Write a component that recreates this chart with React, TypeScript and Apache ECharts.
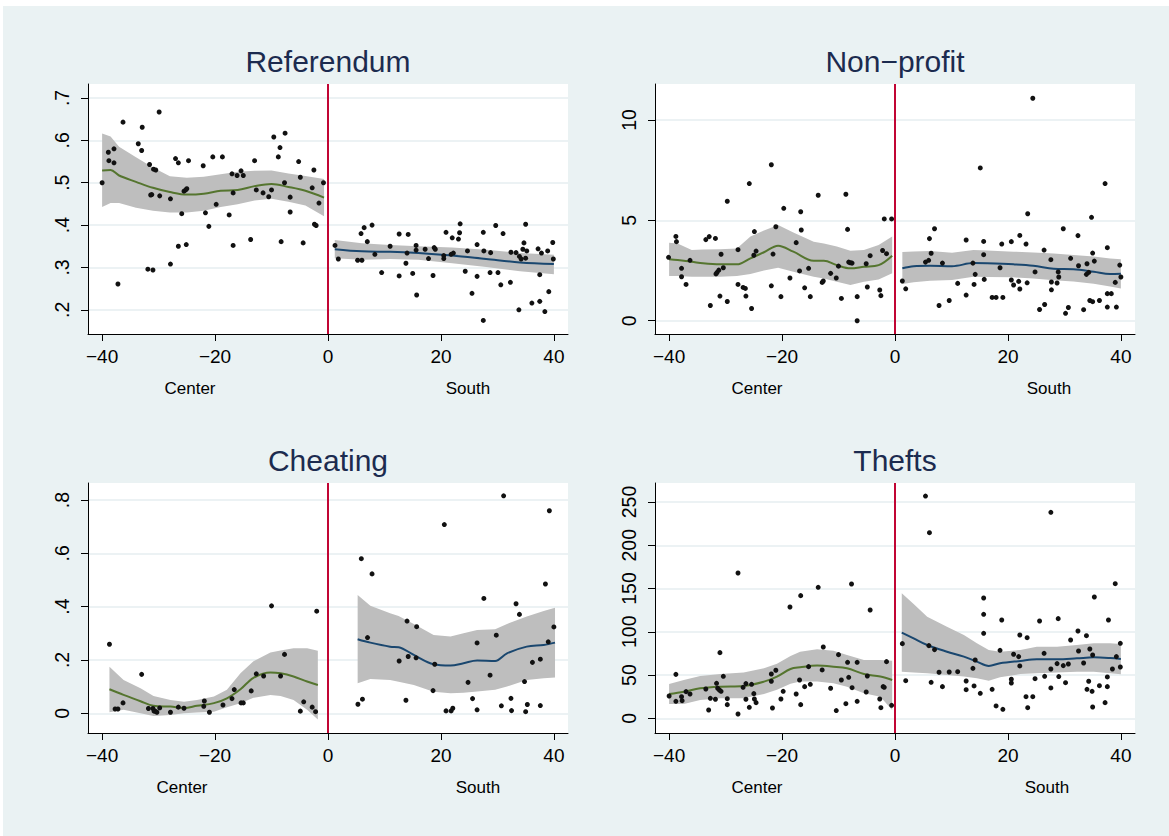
import React, { useEffect, useRef } from "react";
import * as echarts from "echarts";

const FONT = "'Liberation Sans', Arial, Helvetica, sans-serif";
const xTicks = [-40, -20, 0, 20, 40];
const refTicks = [0.2, 0.3, 0.4, 0.5, 0.6, 0.7];
const npTicks = [0, 5, 10];
const cheatTicks = [0, 0.2, 0.4, 0.6, 0.8];
const theftTicks = [0, 50, 100, 150, 200, 250];
const titles = ["Referendum", "Non−profit", "Cheating", "Thefts"];
const sideLabels = ["Center", "South"];

// ---------- Referendum ----------
const refCenterPts = [[-40,0.5],[-38.9,0.572],[-38.8,0.552],[-37.9,0.58],[-37.9,0.547],[-37.2,0.261],[-36.3,0.643],[-33.6,0.592],[-32.9,0.631],[-33,0.576],[-31.9,0.296],[-31,0.294],[-31.6,0.543],[-31.4,0.471],[-31.2,0.472],[-30.9,0.532],[-30.5,0.53],[-29.9,0.667],[-29.8,0.469],[-27.9,0.308],[-27.9,0.462],[-27,0.557],[-26.5,0.547],[-26.5,0.35],[-25.9,0.427],[-25.5,0.48],[-25.2,0.483],[-25,0.486],[-25.1,0.354],[-24.7,0.552],[-22.1,0.54],[-21.7,0.429],[-21.1,0.397],[-20.4,0.561],[-19.8,0.449],[-18.7,0.561],[-17.5,0.424],[-17,0.521],[-16.8,0.476],[-16.8,0.352],[-16.1,0.517],[-15.4,0.528],[-15,0.517],[-13.7,0.366],[-13,0.552],[-12.7,0.483],[-11.5,0.476],[-10.5,0.467],[-10,0.483],[-9.6,0.608],[-8.8,0.561],[-8.5,0.583],[-8.3,0.361],[-7.7,0.5],[-7.6,0.617],[-6.7,0.466],[-6.7,0.431],[-5.2,0.55],[-4.9,0.513],[-4.4,0.358],[-2.8,0.488],[-2.5,0.53],[-2.4,0.402],[-2.1,0.399],[-1.6,0.452],[-0.8,0.5]];
const refSouthPts = [[1.24,0.352],[1.83,0.32],[5.25,0.317],[6,0.317],[5.85,0.38],[6.4,0.394],[6.96,0.361],[7.8,0.4],[8.3,0.331],[9.5,0.288],[11,0.35],[12.6,0.379],[12.6,0.28],[13.8,0.31],[14,0.334],[14.2,0.378],[15,0.286],[15.6,0.352],[15.6,0.341],[15.7,0.235],[17.2,0.343],[17.8,0.321],[18.6,0.281],[18.8,0.347],[19,0.343],[20.5,0.328],[20.5,0.321],[20.9,0.383],[21.8,0.331],[22,0.37],[22.2,0.334],[23.1,0.367],[23.3,0.382],[23.4,0.403],[24.3,0.291],[24.7,0.339],[25.5,0.239],[26.4,0.354],[26.4,0.279],[27.5,0.175],[27.5,0.383],[27.6,0.339],[28.7,0.288],[28.8,0.335],[29.7,0.399],[30.1,0.288],[30.6,0.259],[31,0.38],[32.3,0.265],[32.4,0.336],[33.3,0.335],[33.8,0.2],[33.9,0.326],[34.2,0.32],[34.5,0.343],[34.7,0.358],[35,0.402],[35,0.322],[35.2,0.339],[36.1,0.216],[37.2,0.344],[37.5,0.283],[37.5,0.22],[37.8,0.334],[38.4,0.196],[38.9,0.339],[39.1,0.243],[39.8,0.359],[39.9,0.32]];
// [x, fit, lower, upper]
const refCenterFit = [[-40,0.529,0.443,0.616],[-38.5,0.53,0.452,0.609],[-37,0.517,0.452,0.585],[-34,0.502,0.441,0.56],[-31,0.488,0.434,0.536],[-28,0.478,0.43,0.515],[-25,0.472,0.43,0.512],[-22,0.474,0.434,0.514],[-19,0.481,0.443,0.52],[-16,0.483,0.449,0.526],[-13,0.492,0.458,0.528],[-10,0.497,0.462,0.529],[-7,0.49,0.455,0.522],[-4,0.481,0.446,0.516],[-0.7,0.465,0.421,0.509]];
const refSouthFit = [[1.2,0.343,0.322,0.365],[6,0.338,0.318,0.357],[11,0.337,0.32,0.353],[16,0.334,0.318,0.35],[22,0.328,0.31,0.347],[28,0.32,0.301,0.342],[34,0.312,0.291,0.334],[40,0.308,0.284,0.33]];

// ---------- Non-profit ----------
const npCenterPts = [[-40.1,3.16],[-38.8,4.2],[-38.7,3.94],[-37.8,2.61],[-37.8,2.19],[-37,1.81],[-36.3,3.01],[-33.5,4.04],[-32.9,4.19],[-32.7,0.76],[-31.8,4.1],[-31.7,2.33],[-31.5,2.41],[-31.2,2.52],[-30.8,3.31],[-31,1.23],[-30.4,2.64],[-29.7,5.95],[-29.7,0.96],[-27.8,3.54],[-27.8,1.81],[-26.9,1.66],[-26.5,1.61],[-26.4,1.23],[-25.8,6.83],[-25.4,0.61],[-24.9,4.44],[-25,3.26],[-24.6,3.47],[-21.9,7.77],[-21.9,1.74],[-21.6,3.32],[-21.1,4.68],[-20.2,1.2],[-19.7,5.6],[-18.6,2.13],[-17.5,3.89],[-16.9,2.48],[-16.7,5.43],[-16.6,4.52],[-16,1.64],[-15.3,2.61],[-15,1.2],[-13.6,6.25],[-12.9,1.91],[-12.7,1.98],[-11.4,2.36],[-10.4,2.13],[-10,2.72],[-9.5,1.11],[-8.7,6.3],[-8.4,4.55],[-8.2,2.92],[-7.9,2.89],[-7.6,2.87],[-6.7,1.2],[-6.7,0],[-5.1,2.84],[-4.9,1.68],[-4.4,3.24],[-2.7,1.53],[-2.5,1.25],[-2.2,3.5],[-1.9,5.07],[-1.5,3.34],[-0.6,5.07]];
const npSouthPts = [[1.3,1.98],[1.9,1.59],[5.4,2.92],[5.96,3.01],[6.1,4.09],[6.4,3.36],[7,4.58],[7.8,0.76],[8.4,2.87],[9.6,1.01],[11.1,1.86],[12.6,4.02],[12.6,1.28],[13.8,2.87],[14,1.81],[14.2,2.31],[15.1,7.61],[15.7,3.95],[15.7,3.29],[15.8,2.06],[17.2,1.16],[17.9,1.16],[18.6,2.64],[18.9,3.82],[19.1,1.16],[20.6,3.94],[20.6,2.03],[21,1.78],[21.9,1.96],[22.1,1.58],[22.1,4.25],[23.2,3.82],[23.4,1.89],[23.5,5.33],[24.4,11.08],[24.8,2.43],[25.6,0.56],[26.4,3.52],[26.5,0.81],[27.6,3.04],[27.7,1.93],[27.7,1.54],[28.7,1.88],[28.9,2.43],[29,2.18],[29.8,4.58],[30.2,0.37],[30.7,0.66],[31.1,3.11],[32.4,4.24],[32.5,2.74],[33.4,0.55],[33.9,2.31],[34,2.84],[34.3,2.41],[34.5,1.01],[34.8,5.15],[35,3.37],[35,0.95],[35.3,2.97],[36.2,1.01],[37.2,6.83],[37.6,3.64],[37.6,1.35],[38.3,1.35],[37.6,0.68],[39,1.91],[39.2,0.68],[39.8,2.77],[40,2.18]];
const npCenterFit = [[-40,3.06,2.23,3.89],[-38.5,3.02,2.23,3.85],[-36,2.94,2.19,3.52],[-34,2.86,2.19,3.55],[-31,2.81,2.19,3.56],[-28,2.81,2.23,3.6],[-25.6,3.11,2.33,4.19],[-23.2,3.41,2.5,4.5],[-20.7,3.74,2.64,4.77],[-18,3.44,2.44,4.39],[-14.4,2.99,2.19,3.94],[-12.6,2.99,2.1,3.85],[-10.3,2.77,1.94,3.7],[-7.9,2.61,1.78,3.49],[-5.5,2.69,1.94,3.52],[-2.9,2.77,2.06,3.77],[-0.5,3.24,2.36,4.19]];
const npSouthFit = [[1.3,2.61,1.83,3.42],[3.3,2.72,1.92,3.45],[6.2,2.74,1.99,3.47],[10.1,2.72,2.03,3.39],[13.9,2.87,2.19,3.52],[16.3,2.86,2.18,3.5],[21,2.81,2.16,3.44],[24.5,2.74,2.1,3.4],[28.1,2.59,2.02,3.35],[31.6,2.56,1.95,3.28],[35.2,2.44,1.84,3.2],[38.1,2.33,1.7,3.1],[40,2.34,1.61,3.06]];

// ---------- Cheating ----------
const cheatCenterPts = [[-38.7,0.259],[-37.7,0.016],[-37.2,0.016],[-36.3,0.039],[-33,0.146],[-31.8,0.018],[-31,0.018],[-30.8,0.008],[-30.6,0.008],[-30.3,0.004],[-29.8,0.02],[-27.9,0.004],[-26.5,0.023],[-25.5,0.019],[-21.9,0.046],[-22,0.026],[-21,0.004],[-18.6,0.031],[-17,0.055],[-16.6,0.089],[-15.4,0.039],[-15,0.039],[-13.6,0.084],[-12.7,0.148],[-11.4,0.14],[-10,0.403],[-8.4,0.14],[-7.7,0.221],[-4.9,0.008],[-4.3,0.043],[-2.8,0.023],[-2.2,0.006],[-2,0.383]];
const cheatSouthPts = [[5.3,0.034],[6.1,0.053],[5.9,0.58],[7,0.284],[7.8,0.523],[12.6,0.196],[13.8,0.049],[14,0.346],[14.2,0.213],[15.7,0.325],[15.6,0.208],[18.6,0.085],[18.9,0.184],[20.6,0.708],[20.9,0.009],[21.8,0.009],[22.1,0.019],[24.8,0.116],[25.6,0.055],[26.4,0.264],[26.4,0.013],[27.6,0.431],[28.7,0.143],[29.8,0.293],[30.7,0.028],[31.1,0.816],[32.4,0.056],[32.5,0.01],[33.3,0.411],[33.9,0.371],[34.8,0.119],[35,0.006],[35.3,0.033],[36.2,0.191],[37.6,0.203],[37.6,0.029],[38.5,0.485],[39,0.268],[39.2,0.76],[40,0.324]];
const cheatCenterFit = [[-38.7,0.09,0.004,0.175],[-36.2,0.069,0.013,0.125],[-33.2,0.045,0,0.094],[-30.9,0.028,-0.01,0.065],[-27.9,0.025,-0.006,0.05],[-25.5,0.02,0,0.043],[-23.2,0.028,0.003,0.05],[-20.2,0.038,0.006,0.063],[-17.9,0.056,0.023,0.088],[-15.5,0.09,0.038,0.15],[-13.2,0.133,0.058,0.195],[-10.2,0.153,0.069,0.228],[-8.4,0.15,0.065,0.236],[-6.1,0.138,0.05,0.244],[-3.7,0.119,0.013,0.244],[-1.8,0.106,-0.023,0.235]];
const cheatSouthFit = [[5.25,0.278,0.113,0.444],[7.5,0.265,0.129,0.403],[11,0.25,0.125,0.375],[12.5,0.248,0.118,0.365],[15.2,0.219,0.106,0.335],[18.7,0.184,0.081,0.294],[21.7,0.179,0.075,0.288],[24,0.188,0.077,0.3],[26.4,0.198,0.082,0.312],[29.6,0.196,0.088,0.315],[31.7,0.225,0.1,0.335],[35.2,0.25,0.125,0.363],[38.2,0.256,0.131,0.384],[40.2,0.265,0.134,0.396]];

// ---------- Thefts ----------
const theftCenterPts = [[-40,25.8],[-38.8,19.6],[-38.8,50.8],[-37.8,25],[-37.7,20.4],[-37,30.8],[-36.3,28.1],[-33.5,33.9],[-33,9.6],[-32.7,23.1],[-31.8,22],[-31.6,40.4],[-31.4,34.7],[-31.1,32.7],[-31,75.9],[-30.8,31.2],[-30.4,48.5],[-29.7,22.7],[-29.7,15.8],[-27.8,168],[-27.8,5],[-26.9,35.8],[-26.4,40.1],[-26.4,22],[-25.8,12.7],[-25.4,39.3],[-25,28.5],[-24.9,22.3],[-24.6,18.1],[-21.9,51.2],[-21.9,42.8],[-21.7,11.9],[-21.1,55.5],[-20.2,22.3],[-19.8,31.2],[-18.6,128.7],[-17.5,28.1],[-16.9,44.3],[-16.7,141.8],[-16.7,15.8],[-16,36.6],[-15.3,59.7],[-15,39.3],[-13.6,151.4],[-12.9,55.9],[-12.7,82.4],[-11.4,34.7],[-10.4,8.9],[-10,73.6],[-9.5,44.3],[-8.7,16.9],[-8.4,64.7],[-8.2,47.4],[-7.7,155.2],[-7.6,35.4],[-6.7,64.7],[-6.7,19.6],[-5.1,30.4],[-4.9,48.9],[-4.4,125.2],[-2.7,22.3],[-2.5,12.3],[-2.1,36.6],[-1.9,35.8],[-1.5,65.5],[-0.6,15]];
const theftSouthPts = [[1.3,86.3],[1.9,43.5],[5.4,256.9],[6,84],[6.1,214.6],[6.4,41.6],[7,79.4],[7.8,53.2],[8.4,36.6],[9.6,53.5],[11.1,53.9],[12.6,43.1],[12.6,33.1],[13.8,57.8],[14,37.4],[14.2,67.4],[15.1,28.9],[15.7,139.1],[15.7,120.2],[15.7,98.2],[17.2,33.5],[17.9,14.3],[18.6,78.6],[18.9,113.6],[19.1,10.4],[20.6,45.1],[20.6,40.8],[21,74],[21.9,71.3],[22.1,96.3],[22.1,60.5],[23.2,25],[23.4,93.2],[23.5,12.3],[24.4,25],[24.8,45.8],[25.6,112.5],[26.4,75.1],[26.5,48.5],[27.6,57],[27.6,238.1],[27.6,35.1],[28.7,63.2],[28.9,115.2],[29,48.2],[29.8,60.9],[30.2,41.2],[30.7,62.8],[31.1,90.5],[32.4,100.9],[32.5,77.8],[33.4,63.9],[33.9,95.5],[34,33.5],[34.3,42.8],[34.5,80.1],[34.9,31.2],[35,73.2],[35.3,140.2],[35,13.1],[36.2,37.7],[37.2,18.1],[37.6,47.8],[37.8,113.6],[37.6,36.6],[38.5,57],[39,155.6],[39.2,71.3],[39.9,86.7],[39.9,59.3]];
const theftCenterFit = [[-40,28.1,16.6,39.7],[-37.4,30.8,16.6,44.3],[-34.5,34.7,21.2,48.9],[-30.9,36.6,23.1,51.2],[-26.8,37.4,23.1,52.8],[-23.2,42.4,28.1,57.8],[-20.9,48.2,33,63],[-18.5,57,40,72],[-16.8,58.9,42.4,77],[-13.8,60.9,42.4,79.7],[-10.9,59.7,40.4,78.2],[-8.5,57.8,36.6,73.2],[-5.5,51.2,28.9,67.4],[-2.6,48.2,25,67.4],[-0.5,44.3,9.6,66.6]];
const theftSouthFit = [[1.2,99,53.9,144.5],[3.3,92.4,52.8,132.1],[5.7,84.7,52,117.5],[9.2,77,50.1,105.9],[12.2,71.3,48.2,96.3],[14.5,65.5,46.2,86.7],[16.6,60.5,43.5,79],[18.6,63.6,47.4,77],[22.2,66.3,51.2,79],[25.1,68.2,52,82.8],[28.7,68.2,52.8,82.8],[32.2,69.3,53.9,84.7],[35.2,70.5,53.9,86.7],[38.1,69.7,52,86.7],[40,68.6,50.8,85.9]];

const panels = [
  { title: titles[0], ticks: refTicks, min: 0.143, max: 0.733, c: refCenterPts, s: refSouthPts, cf: refCenterFit, sf: refSouthFit },
  { title: titles[1], ticks: npTicks, min: -0.66, max: 11.79, c: npCenterPts, s: npSouthPts, cf: npCenterFit, sf: npSouthFit },
  { title: titles[2], ticks: cheatTicks, min: -0.074, max: 0.864, c: cheatCenterPts, s: cheatSouthPts, cf: cheatCenterFit, sf: cheatSouthFit },
  { title: titles[3], ticks: theftTicks, min: -17, max: 272, c: theftCenterPts, s: theftSouthPts, cf: theftCenterFit, sf: theftSouthFit },
];

// layout (pixels)
const GRIDS = [
  { left: 88, top: 84, sideX: [190, 468] },
  { left: 655, top: 84, sideX: [757, 1049] },
  { left: 88, top: 483, sideX: [182, 478] },
  { left: 655, top: 483, sideX: [757, 1047] },
];
const GW = 480;
const GH = 250;

const GREEN = "#55752F";
const NAVY = "#1A476F";
const BAND = "#BEBEBE";
const RED = "#C10534";
const BG = "#EAF2F3";

function fmtY(v: number) {
  if (v === 0) return "0";
  const s = String(v);
  return s.startsWith("0.") ? s.slice(1) : s;
}
function fmtX(v: number) {
  return v < 0 ? "\u2212" + Math.abs(v) : String(v);
}

function bandSeries(fit: number[][], i: number) {
  return {
    type: "custom",
    xAxisIndex: i,
    yAxisIndex: i,
    silent: true,
    z: 1,
    data: fit,
    encode: { x: 0, y: 1 },
    renderItem: (params: any, api: any) => {
      if (params.dataIndex !== 0) return null;
      const up = fit.map((r) => api.coord([r[0], r[3]]));
      const lo = fit.slice().reverse().map((r) => api.coord([r[0], r[2]]));
      return {
        type: "polygon",
        shape: { points: up.concat(lo) },
        style: { fill: BAND, stroke: null },
      };
    },
  };
}

function lineSeries(fit: number[][], i: number, color: string) {
  return {
    type: "line",
    xAxisIndex: i,
    yAxisIndex: i,
    silent: true,
    z: 3,
    showSymbol: false,
    smooth: 0.35,
    data: fit.map((r) => [r[0], r[1]]),
    lineStyle: { color, width: 2 },
  };
}

function scatterSeries(pts: number[][], i: number, withRule: boolean) {
  const s: any = {
    type: "scatter",
    xAxisIndex: i,
    yAxisIndex: i,
    silent: true,
    z: 4,
    symbolSize: 5,
    data: pts,
    itemStyle: { color: "#111111", opacity: 1 },
  };
  if (withRule) {
    s.markLine = {
      silent: true,
      symbol: "none",
      animation: false,
      label: { show: false },
      lineStyle: { color: RED, width: 2, type: "solid" },
      data: [{ xAxis: 0 }],
    };
  }
  return s;
}

export default function App() {
  const ref = useRef<HTMLDivElement>(null);
  useEffect(() => {
    if (!ref.current) return;
    const chart = echarts.init(ref.current, null, { renderer: "svg" });
    const grid: any[] = [];
    const xAxis: any[] = [];
    const yAxis: any[] = [];
    const series: any[] = [];
    const graphic: any[] = [
      { type: "rect", shape: { x: 0, y: 0, width: 1169, height: 6 }, style: { fill: "#ffffff" }, silent: true },
      { type: "rect", shape: { x: 0, y: 0, width: 3, height: 836 }, style: { fill: "#ffffff" }, silent: true },
    ];
    panels.forEach((p, i) => {
      const g = GRIDS[i];
      grid.push({
        left: g.left, top: g.top, width: GW, height: GH,
        show: true, backgroundColor: "#ffffff", borderWidth: 0, containLabel: false,
      });
      xAxis.push({
        type: "value", gridIndex: i, min: -42.5, max: 42.5,
        axisLine: { show: true, onZero: false, lineStyle: { color: "#000", width: 1 } },
        axisTick: { show: true, customValues: xTicks, length: 7, lineStyle: { color: "#000", width: 1 } },
        axisLabel: { show: true, customValues: xTicks, formatter: fmtX, fontSize: 19, color: "#000", fontFamily: FONT, margin: 13 },
        splitLine: { show: false },
      });
      yAxis.push({
        type: "value", gridIndex: i, min: p.min, max: p.max,
        axisLine: { show: true, onZero: false, lineStyle: { color: "#000", width: 1 } },
        axisTick: { show: true, customValues: p.ticks, length: 7, lineStyle: { color: "#000", width: 1 } },
        axisLabel: { show: true, customValues: p.ticks, formatter: fmtY, fontSize: 19.5, color: "#000", fontFamily: FONT, rotate: 90, margin: 16 },
        splitLine: { show: true, lineStyle: { color: "#E6EEF0", width: 1.5 } },
      });
      series.push(bandSeries(p.cf, i));
      series.push(bandSeries(p.sf, i));
      series.push(lineSeries(p.cf, i, GREEN));
      series.push(lineSeries(p.sf, i, NAVY));
      series.push(scatterSeries(p.c, i, true));
      series.push(scatterSeries(p.s, i, false));
      graphic.push({
        type: "text", x: g.left + GW / 2, y: g.top - 23, silent: true,
        style: { text: p.title, fontSize: 30, fontFamily: FONT, fill: "#1C2B4F", align: "center", verticalAlign: "middle" },
      });
      graphic.push({
        type: "text", x: g.sideX[0], y: g.top + GH + 54, silent: true,
        style: { text: sideLabels[0], fontSize: 17, fontFamily: FONT, fill: "#000", align: "center", verticalAlign: "middle" },
      });
      graphic.push({
        type: "text", x: g.sideX[1], y: g.top + GH + 54, silent: true,
        style: { text: sideLabels[1], fontSize: 17, fontFamily: FONT, fill: "#000", align: "center", verticalAlign: "middle" },
      });
    });
    chart.setOption({
      animation: false,
      backgroundColor: BG,
      grid,
      xAxis,
      yAxis,
      series,
      graphic,
    });
    return () => chart.dispose();
  }, []);
  return (
    <div
      ref={ref}
      style={{ position: "absolute", left: 0, top: 0, width: 1169, height: 836 }}
    />
  );
}
